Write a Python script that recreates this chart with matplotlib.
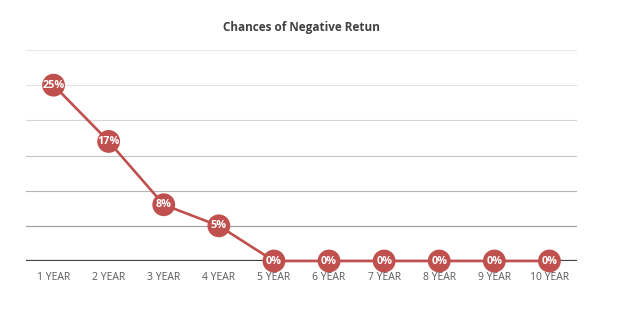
import matplotlib
matplotlib.use("Agg")
import matplotlib.pyplot as plt

categories = ["1 YEAR", "2 YEAR", "3 YEAR", "4 YEAR", "5 YEAR",
              "6 YEAR", "7 YEAR", "8 YEAR", "9 YEAR", "10 YEAR"]
values = [25, 17, 8, 5, 0, 0, 0, 0, 0, 0]
labels = ["25%", "17%", "8%", "5%", "0%", "0%", "0%", "0%", "0%", "0%"]
gridvals = [5, 10, 15, 20, 25, 30]
gridcolors = ["#9c9c9c", "#b4b4b4", "#c4c4c4", "#d6d6d6", "#e2e2e2", "#e8e8e8"]

plt.rcParams['font.family'] = ['Open Sans', 'DejaVu Sans']

W, H = 644, 335
fig = plt.figure(figsize=(W / 100, H / 100), dpi=100)
ax = fig.add_axes([26 / W, (H - 261) / H, (577 - 26) / W, (261 - 50) / H])

x = list(range(len(categories)))
ax.set_xlim(-0.5, len(categories) - 0.5)
ax.set_ylim(0, 30)

for gv, gc in zip(gridvals, gridcolors):
    ax.axhline(gv, color=gc, lw=0.8, zorder=1)
ax.axhline(0, color="#404040", lw=1.6, zorder=2)

color = "#c0504d"
ax.plot(x, values, color=color, lw=1.9, zorder=3, clip_on=False,
        solid_capstyle="round")
ax.scatter(x, values, s=270, color=color, zorder=4, clip_on=False,
           edgecolors="none")
for xi, v, lab in zip(x, values, labels):
    ax.text(xi, v, lab, ha="center", va="center", color="white",
            fontsize=7.8, fontweight="bold", zorder=5, clip_on=False)

for s in ax.spines.values():
    s.set_visible(False)
ax.set_yticks([])
ax.set_xticks(x)
ax.set_xticklabels(categories, fontsize=7.5, color="#595959")
ax.tick_params(axis="x", length=0, pad=8)

fig.text(301 / W, 1 - 27 / H, "Chances of Negative Retun", ha="center",
         va="center", fontsize=8.5, fontweight="bold", color="#404040")

fig.savefig("out.png", dpi=100)
